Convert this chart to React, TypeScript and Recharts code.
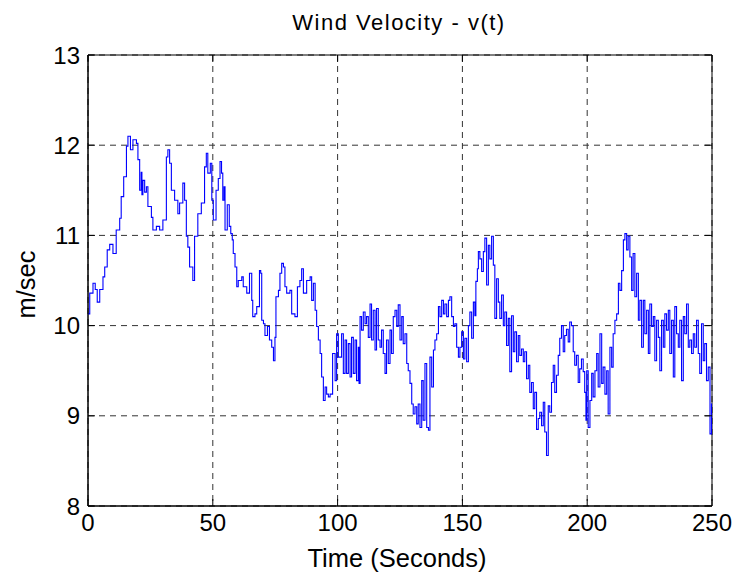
import React from 'react';
import { LineChart, Line, XAxis, YAxis, CartesianGrid, ReferenceArea, Label } from 'recharts';

// Wind velocity samples [time (s), speed (m/s)], by segment
const SEG_0_50: [number, number][] = [
  [0, 10.13], [0.7, 10.36], [2, 10.47], [2.9, 10.4], [3.7, 10.26], [4.7, 10.4], [6, 10.54], [6.7, 10.65],
  [7.7, 10.84], [8.7, 10.9], [10, 10.8], [11.3, 11.06], [12.7, 11.19], [13.3, 11.43], [14.3, 11.65],
  [15.4, 11.99], [16, 12.1], [17, 11.95], [18, 12.06], [19.4, 12.02], [20, 11.84], [20.7, 11.5],
  [21.3, 11.7], [21.6, 11.45], [22, 11.61], [22.7, 11.48], [23.4, 11.54], [24, 11.32], [25.4, 11.2],
  [26, 11.06], [27.4, 11.1], [28.7, 11.06], [30, 11.17], [31.4, 11.87], [32, 11.95], [32.7, 11.8],
  [33.4, 11.5], [34.7, 11.39], [36, 11.24], [36.7, 11.36], [38, 11.58], [38.7, 11.39], [39.4, 10.99],
  [40, 10.87], [40.7, 10.65], [42, 10.5], [42.7, 10.99], [44, 11.24], [45.4, 11.36], [46.7, 11.76],
  [47.4, 11.91], [48, 11.69],
];
const SEG_50_100: [number, number][] = [
  [49, 11.8], [49.6, 11.39], [50.2, 11.17], [51.3, 11.5], [52.2, 11.63], [52.9, 11.82], [53.5, 11.69],
  [54, 11.39], [54.5, 11.54], [54.9, 11.06], [55.8, 11.34], [56.6, 11.1], [57.2, 11.02], [57.8, 10.95],
  [58.2, 10.8], [58.9, 10.65], [59.6, 10.43], [60.2, 10.5], [61.6, 10.54], [62.2, 10.43], [63.6, 10.36],
  [64.7, 10.58], [65.6, 10.28], [66, 10.1], [66.9, 10.13], [67.6, 10.21], [68.7, 10.61], [69.2, 10.58],
  [69.6, 10.06], [70.3, 10.02], [70.9, 9.89], [71.9, 9.99], [72.7, 9.84], [73.6, 9.76], [74.3, 9.61],
  [74.9, 9.87], [75.3, 10.32], [76.3, 10.39], [76.9, 10.58], [77.6, 10.69], [78.3, 10.65], [78.9, 10.43],
  [79.6, 10.36], [80.9, 10.39], [81.6, 10.13], [82.9, 10.1], [83.9, 10.43], [84.9, 10.5], [85.6, 10.63],
  [86.3, 10.36], [87.6, 10.5], [89, 10.54], [89.6, 10.28], [90.3, 10.47], [91, 10.17], [91.6, 9.99],
  [92.3, 9.84], [93, 9.69], [93.6, 9.43], [94.3, 9.17], [95, 9.32], [95.6, 9.24], [96.3, 9.21],
  [97, 9.24], [98, 9.69],
];
const SEG_100_150: [number, number][] = [
  [99, 9.39], [99.6, 9.91], [100.3, 9.65], [101.6, 9.91], [102.3, 9.47], [103, 9.84], [103.6, 9.47],
  [104.3, 9.8], [105, 9.43], [105.6, 9.87], [106.3, 9.47], [107, 9.84], [107.6, 9.39], [108.3, 9.76],
  [108.6, 9.36], [109, 10.1], [109.6, 9.95], [110.3, 10.15], [111, 10.02], [111.6, 10.1], [112.3, 9.87],
  [113, 10.24], [113.6, 9.84], [114.3, 10.17], [115, 9.73], [115.6, 10.19], [116.3, 9.84], [117, 9.76],
  [117.6, 9.95], [118.3, 9.69], [119, 9.47], [119.6, 9.84], [120.3, 9.58], [121, 9.95], [121.6, 9.69],
  [122.3, 10.1], [123, 10.17], [123.7, 9.99], [124.3, 10.23], [125, 9.84], [125.7, 10.1], [126.3, 9.8],
  [127, 9.91], [127.7, 9.58], [128.3, 9.5], [129, 9.36], [129.7, 9.13], [130.3, 9.02], [131, 9.1],
  [131.7, 8.91], [132.3, 9.13], [133, 8.87], [133.7, 9.39], [134.3, 8.95], [135, 9.58], [135.7, 8.87],
  [136.4, 8.84], [137, 9.65], [137.7, 9.32], [138.4, 9.73], [139, 9.84], [139.7, 9.91], [140.4, 10.21],
  [141, 10.1], [141.7, 10.28], [142.4, 10.13], [143, 10.24], [143.7, 10.1], [144.4, 10.28], [145, 10.32],
  [145.7, 10.1], [146.4, 9.99], [147, 10.02], [147.7, 9.76], [148.4, 9.65], [149, 9.76],
];
const SEG_150_200: [number, number][] = [
  [149.7, 9.93], [150.4, 9.63], [151, 9.86], [151.7, 9.6], [152.4, 10.0], [153, 10.15], [153.7, 9.86],
  [154.4, 10.26], [155, 10.11], [155.4, 10.49], [156, 10.63], [156.4, 10.82], [157, 10.74], [157.7, 10.6],
  [158.4, 10.82], [159, 10.97], [159.7, 10.45], [160.4, 10.89], [161, 10.74], [161.7, 10.99], [162.4, 10.67],
  [163, 10.08], [163.7, 10.52], [164.4, 10.26], [165, 10.08], [165.7, 10.34], [166.4, 10.0], [167, 10.15],
  [167.7, 9.78], [168.4, 10.08], [169, 9.49], [169.7, 10.11], [170.4, 9.71], [171, 9.93], [171.7, 9.6],
  [172.4, 9.89], [173, 9.67], [173.7, 9.74], [174.4, 9.6], [175, 9.71], [175.7, 9.41], [176.4, 9.56],
  [177, 9.26], [177.7, 9.37], [178.4, 9.08], [179, 9.26], [179.7, 8.85], [180.4, 8.97], [181, 9.04],
  [181.7, 8.89], [182.4, 9.15], [183, 8.82], [183.7, 8.56], [184.4, 9.11], [185, 9.04], [185.7, 9.37],
  [186.4, 9.56], [187, 9.26], [187.7, 9.45], [188.4, 9.67], [189, 9.86], [189.7, 10.0], [190.4, 9.71],
  [191, 9.89], [191.7, 9.96], [192.4, 9.82], [193, 10.04], [193.7, 10.0], [194.4, 9.71], [195, 9.56],
  [195.7, 9.67], [196.4, 9.37], [197, 9.52], [197.7, 9.63], [198.4, 9.49], [199, 9.26],
];
const SEG_200_250: [number, number][] = [
  [199.5, 8.95], [199.8, 9.5], [200.4, 8.87], [201.1, 9.17], [201.8, 9.47], [202.4, 9.21], [203.1, 9.5],
  [203.8, 9.69], [204.4, 9.32], [205.1, 9.91], [205.8, 9.36], [206.4, 9.54], [207.1, 9.24], [207.8, 9.5],
  [208.4, 9.02], [209.1, 9.76], [209.8, 9.54], [210.4, 9.91], [211.1, 10.06], [211.8, 10.13], [212.5, 10.47],
  [213.1, 10.39], [213.8, 10.61], [214.5, 10.95], [215.1, 11.02], [215.8, 10.84], [216.4, 10.99],
  [217.1, 10.76], [217.8, 10.39], [218.4, 10.8], [219.1, 10.32], [219.8, 10.58], [220.5, 10.06],
  [221.1, 10.28], [221.8, 9.76], [222.5, 10.28], [223.1, 9.91], [223.8, 10.17], [224.5, 9.69],
  [225.1, 10.24], [225.8, 9.99], [226.5, 10.1], [227.1, 9.61], [227.8, 10.06], [228.5, 9.87], [229.1, 9.5],
  [229.8, 10.06], [230.5, 9.76], [231.1, 10.13], [231.8, 9.95], [232.5, 10.17], [233.1, 9.69],
  [233.8, 10.06], [234.5, 9.43], [235.1, 10.21], [235.8, 9.91], [236.5, 9.76], [237.1, 10.06], [237.8, 9.39],
  [238.5, 10.1], [239.1, 9.91], [239.8, 10.24], [240.5, 9.76], [241.1, 9.84], [241.8, 9.69], [242.5, 9.91],
  [243.1, 9.76], [243.8, 10.06], [244.5, 9.69], [245.1, 9.47], [245.8, 10.02], [246.5, 9.61], [247.1, 9.8],
  [247.8, 9.39], [248.5, 9.54], [249.2, 8.8], [249.8, 9.13], [250, 9.0],
];

const X_TICKS = [0, 50, 100, 150, 200, 250];
const Y_TICKS = [8, 9, 10, 11, 12, 13];
const TITLE = 'Wind Velocity - v(t)';
const X_LABEL = 'Time (Seconds)';
const Y_LABEL = 'm/sec';

const data = [...SEG_0_50, ...SEG_50_100, ...SEG_100_150, ...SEG_150_200, ...SEG_200_250].map(
  ([t, v]) => ({ t, v })
);

const W = 735;
const H = 576;
const MARGIN = { top: 55, right: 23, bottom: 40, left: 48 };
const X_AXIS_H = 30;
const Y_AXIS_W = 40;
const PLOT_W = W - MARGIN.left - MARGIN.right - Y_AXIS_W;
const PLOT_H = H - MARGIN.top - MARGIN.bottom - X_AXIS_H;
const TICK_LEN = 7;
const X_TICK_MARGIN = 7;
const Y_TICK_MARGIN = 8;
const FONT = '"Liberation Sans", Arial, Helvetica, sans-serif';
const TICK_FONT = 24;
const LABEL_FONT = 25.5;

const XTick = (props: any) => {
  const { x, y, payload } = props;
  const axisY = y - X_TICK_MARGIN;
  return (
    <g>
      <line x1={x} x2={x} y1={axisY} y2={axisY - TICK_LEN} stroke="#000" />
      <line x1={x} x2={x} y1={axisY - PLOT_H} y2={axisY - PLOT_H + TICK_LEN} stroke="#000" />
      <text x={x} y={y} dy="0.74em" textAnchor="middle" fontSize={TICK_FONT} fontFamily={FONT} fill="#000">
        {payload.value}
      </text>
    </g>
  );
};

const YTick = (props: any) => {
  const { x, y, payload } = props;
  const axisX = x + Y_TICK_MARGIN;
  return (
    <g>
      <line x1={axisX} x2={axisX + TICK_LEN} y1={y} y2={y} stroke="#000" />
      <line x1={axisX + PLOT_W} x2={axisX + PLOT_W - TICK_LEN} y1={y} y2={y} stroke="#000" />
      <text x={x} y={y} dy="0.36em" textAnchor="end" fontSize={TICK_FONT} fontFamily={FONT} fill="#000">
        {payload.value}
      </text>
    </g>
  );
};

const XLabel = (props: any) => {
  const { viewBox } = props;
  const cx = viewBox.x + viewBox.width / 2 - 3;
  return (
    <text x={cx} y={viewBox.y + 61} textAnchor="middle" fontSize={LABEL_FONT} fontFamily={FONT} fill="#000">
      {X_LABEL}
    </text>
  );
};

const YLabel = (props: any) => {
  const { viewBox } = props;
  const cx = viewBox.x - 13;
  const cy = viewBox.y + viewBox.height / 2 + 4;
  return (
    <text
      x={cx}
      y={cy}
      transform={`rotate(-90 ${cx} ${cy})`}
      textAnchor="middle"
      fontSize={LABEL_FONT}
      fontFamily={FONT}
      fill="#000"
    >
      {Y_LABEL}
    </text>
  );
};

export default function App() {
  return (
    <div style={{ position: 'absolute', left: 0, top: 0, width: W, height: H, background: '#fff' }}>
      <div
        style={{
          position: 'absolute',
          left: 0,
          top: 12,
          width: 798,
          textAlign: 'center',
          fontFamily: FONT,
          fontSize: 22,
          lineHeight: '22px',
          letterSpacing: 1.5,
          color: '#000',
          whiteSpace: 'nowrap',
        }}
      >
        {TITLE}
      </div>
      <LineChart width={W} height={H} data={data} margin={MARGIN}>
        <CartesianGrid stroke="#333" strokeDasharray="6 5" />
        <XAxis
          dataKey="t"
          type="number"
          domain={[0, 250]}
          ticks={X_TICKS}
          allowDataOverflow
          height={X_AXIS_H}
          tickLine={false}
          tickSize={0}
          tickMargin={X_TICK_MARGIN}
          axisLine={{ stroke: '#000' }}
          tick={<XTick />}
          interval={0}
        >
          <Label content={<XLabel />} />
        </XAxis>
        <YAxis
          type="number"
          domain={[8, 13]}
          ticks={Y_TICKS}
          allowDataOverflow
          width={Y_AXIS_W}
          tickLine={false}
          tickSize={0}
          tickMargin={Y_TICK_MARGIN}
          axisLine={{ stroke: '#000' }}
          tick={<YTick />}
          interval={0}
        >
          <Label content={<YLabel />} />
        </YAxis>
        <ReferenceArea x1={0} x2={250} y1={8} y2={13} fill="none" stroke="#000" strokeWidth={1} />
        <Line
          type="stepAfter"
          dataKey="v"
          stroke="#0000ff"
          strokeWidth={1.1}
          dot={false}
          isAnimationActive={false}
        />
      </LineChart>
    </div>
  );
}
